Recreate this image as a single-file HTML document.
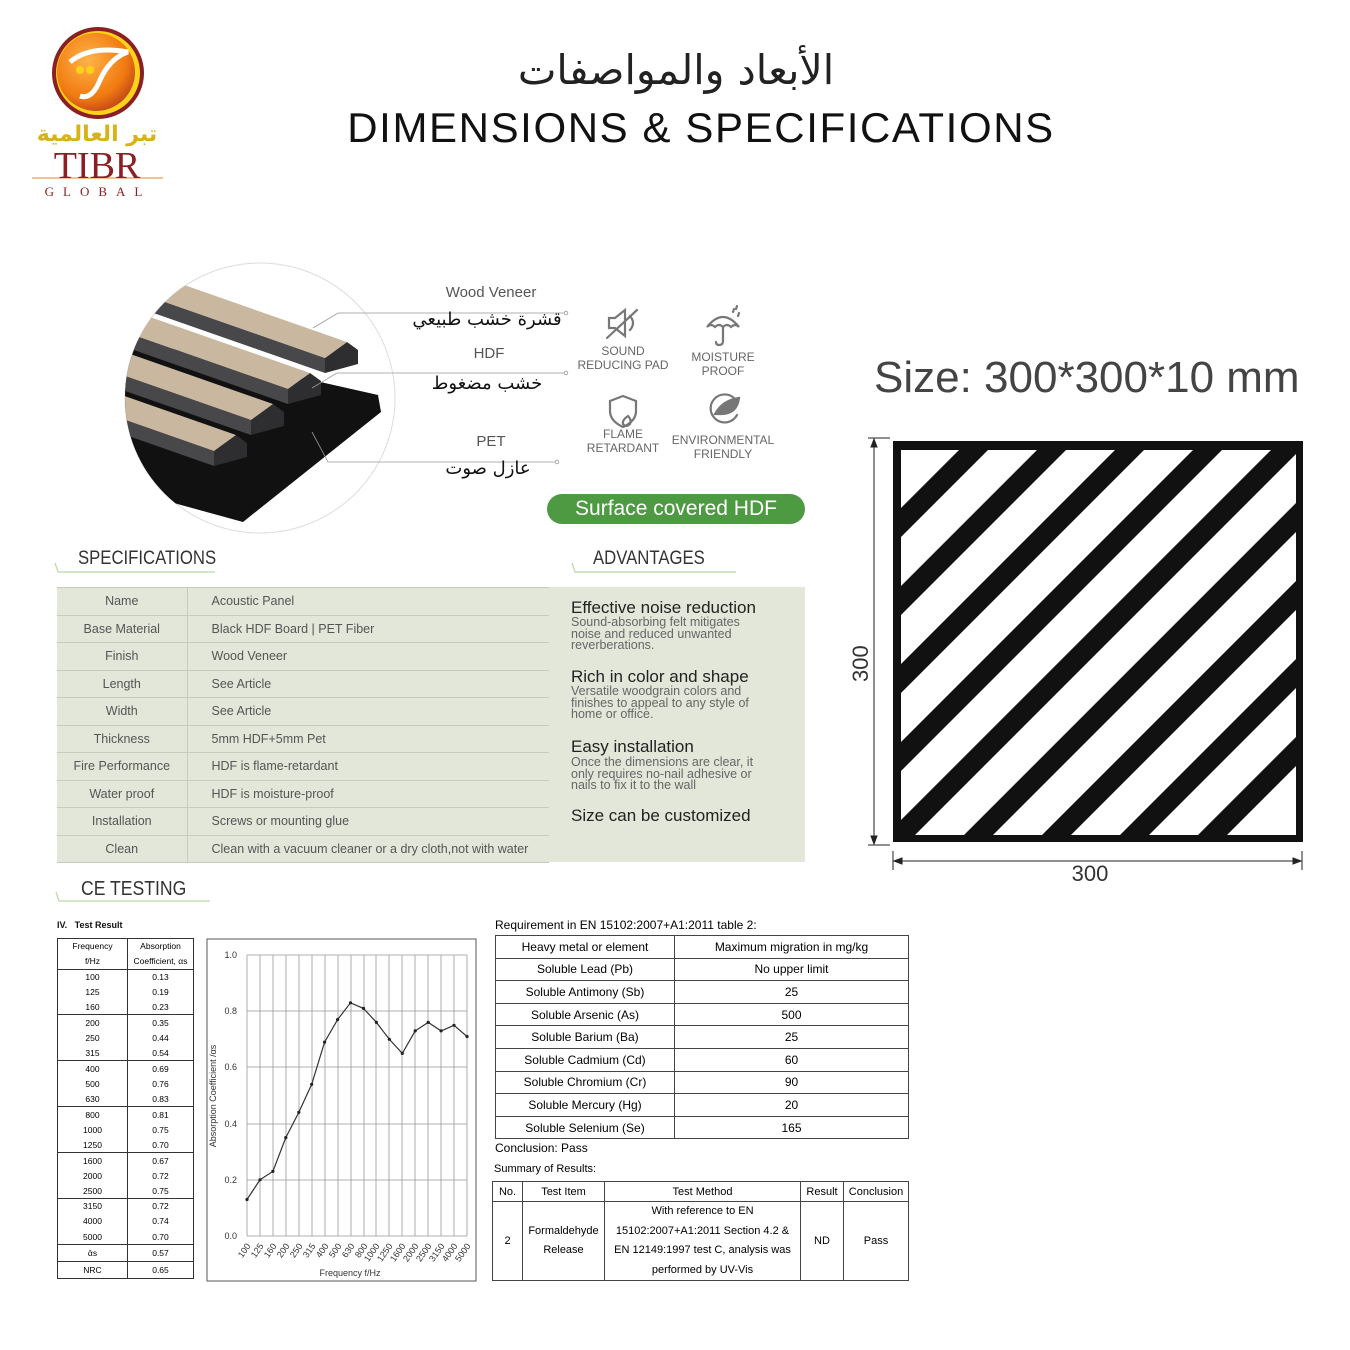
<!DOCTYPE html>
<html><head><meta charset="utf-8"><style>
*{margin:0;padding:0;box-sizing:border-box}
body{width:1350px;height:1350px;background:#fff;position:relative;overflow:hidden;font-family:"Liberation Sans","Noto Sans CJK SC",sans-serif;color:#333}
.a{position:absolute;white-space:nowrap}
.c{transform:translateX(-50%);text-align:center}
.ar{font-family:"DejaVu Sans","Liberation Sans",sans-serif}
.sx{transform:scaleX(0.88);transform-origin:0 0}
table{border-collapse:collapse;position:absolute}
.spec{left:57px;top:587px;width:492px;background:#e2e7da}
.spec td{height:27.5px;border:1px solid #c6cbbd;border-left:none;border-right:none;font-size:12.5px;color:#555;padding:0}
.spec td:first-child{width:130px;text-align:center;border-right:1px solid #c6cbbd}
.spec td:last-child{padding-left:24px}
.adv h4{font-size:17px;color:#222;font-weight:normal;line-height:18px;position:absolute;left:571px;white-space:nowrap}
.adv p{font-size:12.5px;color:#666;line-height:11.6px;position:absolute;left:571px;white-space:nowrap}
.freq{left:57px;top:938px;width:137px;font-size:8.5px;color:#000}
.freq td{text-align:center;border-left:1px solid #333;border-right:1px solid #333;height:15.3px;padding:0}
.req{left:495px;top:935px;width:414px;font-size:12px;color:#000}
.req td{border:1px solid #444;text-align:center;height:22.6px;padding:0}
.sum{left:492px;top:1181px;width:417px;font-size:11px;color:#000}
.sum td{border:1px solid #444;text-align:center;padding:0}
</style></head><body>

<svg class="a" style="left:0;top:0" width="1350" height="1350" viewBox="0 0 1350 1350">
<defs>
<clipPath id="cc"><circle cx="260" cy="398" r="135"/></clipPath>
<clipPath id="sq"><rect x="901" y="450" width="395" height="385"/></clipPath>
<radialGradient id="lg" cx="0.4" cy="0.35" r="0.7"><stop offset="0" stop-color="#ffb347"/><stop offset="0.7" stop-color="#f07a10"/><stop offset="1" stop-color="#c0441a"/></radialGradient>
</defs>
<!-- logo -->
<circle cx="98" cy="73" r="46" fill="#8a2024"/>
<circle cx="98" cy="73" r="42" fill="#ffd21a"/>
<circle cx="96" cy="72" r="39" fill="url(#lg)"/>
<path d="M70 62 Q90 45 128 52 Q110 58 100 80 Q92 100 80 96" fill="none" stroke="#fff" stroke-width="5"/>
<circle cx="80" cy="70" r="4" fill="#ffd21a"/><circle cx="90" cy="70" r="4" fill="#ffd21a"/>
<line x1="32" y1="178" x2="163" y2="178" stroke="#f08020" stroke-width="1"/>
<!-- panel illustration -->
<circle cx="260" cy="398" r="135" fill="#fff" stroke="#ddd" stroke-width="1"/>
<g clip-path="url(#cc)">
<polygon points="378,395 381,412 243,522 90,480 90,330" fill="#111"/>
<g id="s">
<polygon points="325,358 325,373 25,268 25,253" fill="#48484a"/>
<polygon points="347,342 358,350 358,364 325,373 325,358" fill="#2e2e30"/>
<polygon points="347,342 325,358 25,253 47,237" fill="#c9b79f"/>
</g>
<use href="#s" transform="translate(-37,31)"/>
<use href="#s" transform="translate(-74,62)"/>
<use href="#s" transform="translate(-111,93)"/>
</g>
<g stroke="#999" stroke-width="0.8" fill="#fff">
<polyline points="313,328 338,313 565,313" fill="none"/><circle cx="566" cy="313" r="1.8"/>
<polyline points="312,388 337,373 565,373" fill="none"/><circle cx="566" cy="373" r="1.8"/>
<polyline points="312,432 328,462 556,462" fill="none"/><circle cx="557" cy="462" r="1.8"/>
</g>
<!-- icons -->
<g stroke="#777" stroke-width="2.2" fill="none" stroke-linecap="round">
<path d="M609 318 h6 l10 -8 v26 l-10 -8 h-6z"/><path d="M630 316 q6 7 0 14"/><line x1="607" y1="338" x2="637" y2="310"/>
<path d="M707 327 q16 -20 32 0 q-4 -4 -8 0 q-4 -4 -8 0 q-4 -4 -8 0 q-4 -4 -8 0z"/><path d="M723 327 v14 q0 4 -4 4 q-3 0 -3 -3"/><path d="M733 312 l1 -3 M738 316 l1 -3 M736 309 l1 -3"/>
<path d="M623 396 l-13 5 v10 q0 10 13 16 q13 -6 13 -16 v-10z"/><path d="M628 416 q4 4 2 8 q-4 4 -7 0 q-1 -4 5 -8z"/>
<path d="M735 399 a14 14 0 1 0 2 16"/><path d="M715 414 q8 -14 24 -16 q-2 16 -18 16z" fill="#777"/>
</g>
<!-- square -->
<rect x="893" y="441" width="410" height="401" fill="#111"/>
<g clip-path="url(#sq)" fill="#fff">
<polygon points="490,850 900,440 969,440 559,850"/>
<polygon points="588,850 998,440 1047,440 637,850"/>
<polygon points="666,850 1076,440 1125,440 715,850"/>
<polygon points="744,850 1154,440 1203,440 793,850"/>
<polygon points="822,850 1232,440 1281,440 871,850"/>
<polygon points="900,850 1310,440 1359,440 949,850"/>
<polygon points="978,850 1388,440 1437,440 1027,850"/>
<polygon points="1056,850 1466,440 1515,440 1105,850"/>
<polygon points="1134,850 1544,440 1593,440 1183,850"/>
<polygon points="1212,850 1622,440 1700,440 1290,850"/>
</g>
<g stroke="#222" stroke-width="1" fill="#222">
<line x1="874" y1="439" x2="874" y2="844"/><line x1="868" y1="438" x2="890" y2="438"/><line x1="868" y1="845" x2="890" y2="845"/>
<polygon points="874,439 871,447 877,447"/><polygon points="874,844 871,836 877,836"/>
<line x1="893" y1="861" x2="1302" y2="861"/><line x1="893" y1="851" x2="893" y2="870"/><line x1="1302" y1="851" x2="1302" y2="870"/>
<polygon points="894,861 902,858 902,864"/><polygon points="1301,861 1293,858 1293,864"/>
</g>
<!-- header underlines -->
<g stroke="#b9d6a8" stroke-width="1.2" fill="none">
<polyline points="55,563 58,572 215,572"/><polyline points="572,563 575,572 736,572"/><polyline points="56,892 59,901 210,901"/>
</g>
<!-- chart -->
<rect x="207" y="939" width="269" height="342" fill="none" stroke="#555" stroke-width="1"/>
<g stroke="#999" stroke-width="0.8">
<line x1="247" y1="955" x2="467" y2="955"/><line x1="247" y1="1011" x2="467" y2="1011"/><line x1="247" y1="1067" x2="467" y2="1067"/><line x1="247" y1="1124" x2="467" y2="1124"/><line x1="247" y1="1180" x2="467" y2="1180"/><line x1="247" y1="1236" x2="467" y2="1236"/>
<line x1="247" y1="955" x2="247" y2="1236"/><line x1="260" y1="955" x2="260" y2="1236"/><line x1="273" y1="955" x2="273" y2="1236"/><line x1="286" y1="955" x2="286" y2="1236"/><line x1="299" y1="955" x2="299" y2="1236"/><line x1="312" y1="955" x2="312" y2="1236"/><line x1="325" y1="955" x2="325" y2="1236"/><line x1="338" y1="955" x2="338" y2="1236"/><line x1="351" y1="955" x2="351" y2="1236"/><line x1="364" y1="955" x2="364" y2="1236"/><line x1="376" y1="955" x2="376" y2="1236"/><line x1="389" y1="955" x2="389" y2="1236"/><line x1="402" y1="955" x2="402" y2="1236"/><line x1="415" y1="955" x2="415" y2="1236"/><line x1="428" y1="955" x2="428" y2="1236"/><line x1="441" y1="955" x2="441" y2="1236"/><line x1="454" y1="955" x2="454" y2="1236"/><line x1="467" y1="955" x2="467" y2="1236"/>
</g>
<polyline fill="none" stroke="#333" stroke-width="1.2" points="247,1199.5 260,1179.8 272.9,1171.4 285.8,1137.6 298.8,1112.4 311.7,1084.3 324.6,1042.1 337.6,1019.6 350.5,1002.8 363.5,1008.4 376.4,1022.4 389.3,1039.3 402.3,1053.4 415.2,1030.9 428.2,1022.4 441.1,1030.9 454,1025.3 467,1036.5"/>
<g fill="#222"><circle cx="247" cy="1199.5" r="1.6"/><circle cx="260" cy="1179.8" r="1.6"/><circle cx="272.9" cy="1171.4" r="1.6"/><circle cx="285.8" cy="1137.6" r="1.6"/><circle cx="298.8" cy="1112.4" r="1.6"/><circle cx="311.7" cy="1084.3" r="1.6"/><circle cx="324.6" cy="1042.1" r="1.6"/><circle cx="337.6" cy="1019.6" r="1.6"/><circle cx="350.5" cy="1002.8" r="1.6"/><circle cx="363.5" cy="1008.4" r="1.6"/><circle cx="376.4" cy="1022.4" r="1.6"/><circle cx="389.3" cy="1039.3" r="1.6"/><circle cx="402.3" cy="1053.4" r="1.6"/><circle cx="415.2" cy="1030.9" r="1.6"/><circle cx="428.2" cy="1022.4" r="1.6"/><circle cx="441.1" cy="1030.9" r="1.6"/><circle cx="454" cy="1025.3" r="1.6"/><circle cx="467" cy="1036.5" r="1.6"/></g>
<g font-family="Liberation Sans" font-size="9" fill="#333" text-anchor="end">
<text x="237" y="958">1.0</text><text x="237" y="1014">0.8</text><text x="237" y="1070">0.6</text><text x="237" y="1127">0.4</text><text x="237" y="1183">0.2</text><text x="237" y="1239">0.0</text>
<text transform="translate(251,1246) rotate(-55)">100</text><text transform="translate(264,1246) rotate(-55)">125</text><text transform="translate(277,1246) rotate(-55)">160</text><text transform="translate(290,1246) rotate(-55)">200</text><text transform="translate(303,1246) rotate(-55)">250</text><text transform="translate(316,1246) rotate(-55)">315</text><text transform="translate(329,1246) rotate(-55)">400</text><text transform="translate(342,1246) rotate(-55)">500</text><text transform="translate(355,1246) rotate(-55)">630</text><text transform="translate(368,1246) rotate(-55)">800</text><text transform="translate(380,1246) rotate(-55)">1000</text><text transform="translate(393,1246) rotate(-55)">1250</text><text transform="translate(406,1246) rotate(-55)">1600</text><text transform="translate(419,1246) rotate(-55)">2000</text><text transform="translate(432,1246) rotate(-55)">2500</text><text transform="translate(445,1246) rotate(-55)">3150</text><text transform="translate(458,1246) rotate(-55)">4000</text><text transform="translate(471,1246) rotate(-55)">5000</text>
</g>
<text x="350" y="1276" font-family="Liberation Sans" font-size="9" fill="#333" text-anchor="middle">Frequency f/Hz</text>
<text transform="translate(216,1096) rotate(-90)" font-family="Liberation Sans" font-size="9" fill="#333" text-anchor="middle">Absorption Coefficient /αs</text>
</svg>

<!-- logo text -->
<div class="a c ar" style="left:97px;top:122px;font-size:22px;font-weight:bold;color:#d8b21a">تبر العالمية</div>
<div class="a c" style="left:97px;top:147px;font-family:'Liberation Serif',serif;font-size:38px;color:#8a2024;line-height:38px">TIBR</div>
<div class="a c" style="left:98px;top:184px;font-family:'Liberation Serif',serif;font-size:13px;letter-spacing:9px;color:#8a2024">GLOBAL</div>

<!-- title -->
<div class="a c ar" style="left:676px;top:46px;font-size:41px;color:#222">الأبعاد والمواصفات</div>
<div class="a c" style="left:701px;top:104px;font-size:42px;color:#111;letter-spacing:1.6px">DIMENSIONS &amp; SPECIFICATIONS</div>

<!-- layer labels -->
<div class="a c" style="left:491px;top:284px;font-size:15px;color:#555">Wood Veneer</div>
<div class="a c ar" style="left:487px;top:309px;font-size:18px;color:#111">قشرة خشب طبيعي</div>
<div class="a c" style="left:489px;top:345px;font-size:15px;color:#555">HDF</div>
<div class="a c ar" style="left:487px;top:373px;font-size:18px;color:#111">خشب مضغوط</div>
<div class="a c" style="left:491px;top:433px;font-size:15px;color:#555">PET</div>
<div class="a c ar" style="left:488px;top:458px;font-size:18px;color:#111">عازل صوت</div>

<div class="a c" style="left:623px;top:344px;font-size:12px;color:#666;line-height:14px">SOUND<br>REDUCING PAD</div>
<div class="a c" style="left:723px;top:350px;font-size:12px;color:#666;line-height:14px">MOISTURE<br>PROOF</div>
<div class="a c" style="left:623px;top:427px;font-size:12px;color:#666;line-height:14px">FLAME<br>RETARDANT</div>
<div class="a c" style="left:723px;top:433px;font-size:12px;color:#666;line-height:14px">ENVIRONMENTAL<br>FRIENDLY</div>

<div class="a" style="left:547px;top:494px;width:258px;height:30px;border-radius:15px;background:#4e9a43;color:#fff;font-size:21px;text-align:center;line-height:30px">Surface covered HDF</div>

<div class="a" style="left:874px;top:353px;font-size:44px;color:#444">Size: 300*300*10 mm</div>
<div class="a" style="left:848px;top:682px;font-size:22px;color:#333;transform:rotate(-90deg);transform-origin:0 0">300</div>
<div class="a c" style="left:1090px;top:861px;font-size:22px;color:#333">300</div>

<div class="a sx" style="left:78px;top:548px;font-size:19px;color:#333">SPECIFICATIONS</div>
<div class="a sx" style="left:593px;top:548px;font-size:19px;color:#333">ADVANTAGES</div>

<table class="spec">
<tr><td>Name</td><td>Acoustic Panel</td></tr>
<tr><td>Base Material</td><td>Black HDF Board | PET Fiber</td></tr>
<tr><td>Finish</td><td>Wood Veneer</td></tr>
<tr><td>Length</td><td>See Article</td></tr>
<tr><td>Width</td><td>See Article</td></tr>
<tr><td>Thickness</td><td>5mm HDF+5mm Pet</td></tr>
<tr><td>Fire Performance</td><td>HDF is flame-retardant</td></tr>
<tr><td>Water proof</td><td>HDF is moisture-proof</td></tr>
<tr><td>Installation</td><td>Screws or mounting glue</td></tr>
<tr><td>Clean</td><td>Clean with a vacuum cleaner or a dry cloth,not with water</td></tr>
</table>
<div class="a" style="left:549px;top:587px;width:256px;height:275px;background:#e2e7da"></div>
<div class="adv">
<h4 style="top:599px">Effective noise reduction</h4>
<p style="top:617px">Sound-absorbing felt mitigates<br>noise and reduced unwanted<br>reverberations.</p>
<h4 style="top:668px">Rich in color and shape</h4>
<p style="top:686px">Versatile woodgrain colors and<br>finishes to appeal to any style of<br>home or office.</p>
<h4 style="top:738px">Easy installation</h4>
<p style="top:757px">Once the dimensions are clear, it<br>only requires no-nail adhesive or<br>nails to fix it to the wall</p>
<h4 style="top:807px">Size can be customized</h4>
</div>

<div class="a sx" style="left:81px;top:878px;font-size:20px;color:#333">CE TESTING</div>
<div class="a" style="left:57px;top:920px;font-size:9px;font-weight:bold;color:#111">IV.&nbsp;&nbsp; Test Result</div>

<table class="freq" style="border:1px solid #333">
<tr><td style="height:15px;width:70px">Frequency</td><td>Absorption</td></tr>
<tr><td style="height:15px">f/Hz</td><td>Coefficient, αs</td></tr>
<tr style="border-top:1px solid #333"><td>100</td><td>0.13</td></tr><tr><td>125</td><td>0.19</td></tr><tr><td>160</td><td>0.23</td></tr>
<tr style="border-top:1px solid #333"><td>200</td><td>0.35</td></tr><tr><td>250</td><td>0.44</td></tr><tr><td>315</td><td>0.54</td></tr>
<tr style="border-top:1px solid #333"><td>400</td><td>0.69</td></tr><tr><td>500</td><td>0.76</td></tr><tr><td>630</td><td>0.83</td></tr>
<tr style="border-top:1px solid #333"><td>800</td><td>0.81</td></tr><tr><td>1000</td><td>0.75</td></tr><tr><td>1250</td><td>0.70</td></tr>
<tr style="border-top:1px solid #333"><td>1600</td><td>0.67</td></tr><tr><td>2000</td><td>0.72</td></tr><tr><td>2500</td><td>0.75</td></tr>
<tr style="border-top:1px solid #333"><td>3150</td><td>0.72</td></tr><tr><td>4000</td><td>0.74</td></tr><tr><td>5000</td><td>0.70</td></tr>
<tr style="border-top:1px solid #333"><td style="height:17px">ᾱs</td><td>0.57</td></tr>
<tr style="border-top:1px solid #333"><td style="height:17px">NRC</td><td>0.65</td></tr>
</table>

<div class="a" style="left:495px;top:918px;font-size:12px;color:#000">Requirement in EN 15102:2007+A1:2011 table 2:</div>
<table class="req">
<tr><td style="width:179px">Heavy metal or element</td><td>Maximum migration in mg/kg</td></tr>
<tr><td>Soluble Lead (Pb)</td><td>No upper limit</td></tr>
<tr><td>Soluble Antimony (Sb)</td><td>25</td></tr>
<tr><td>Soluble Arsenic (As)</td><td>500</td></tr>
<tr><td>Soluble Barium (Ba)</td><td>25</td></tr>
<tr><td>Soluble Cadmium (Cd)</td><td>60</td></tr>
<tr><td>Soluble Chromium (Cr)</td><td>90</td></tr>
<tr><td>Soluble Mercury (Hg)</td><td>20</td></tr>
<tr><td>Soluble Selenium (Se)</td><td>165</td></tr>
</table>
<div class="a" style="left:495px;top:1141px;font-size:12px;color:#000">Conclusion: Pass</div>
<div class="a" style="left:494px;top:1163px;font-size:11px;color:#000">Summary of Results:</div>
<table class="sum">
<tr style="height:20px"><td style="width:30px">No.</td><td style="width:82px">Test Item</td><td style="width:196px">Test Method</td><td style="width:43px">Result</td><td>Conclusion</td></tr>
<tr style="height:79px"><td>2</td><td style="line-height:19px">Formaldehyde<br>Release</td><td style="line-height:19.5px">With reference to EN<br>15102:2007+A1:2011 Section 4.2 &amp;<br>EN 12149:1997 test C, analysis was<br>performed by UV-Vis</td><td>ND</td><td>Pass</td></tr>
</table>
</body></html>
